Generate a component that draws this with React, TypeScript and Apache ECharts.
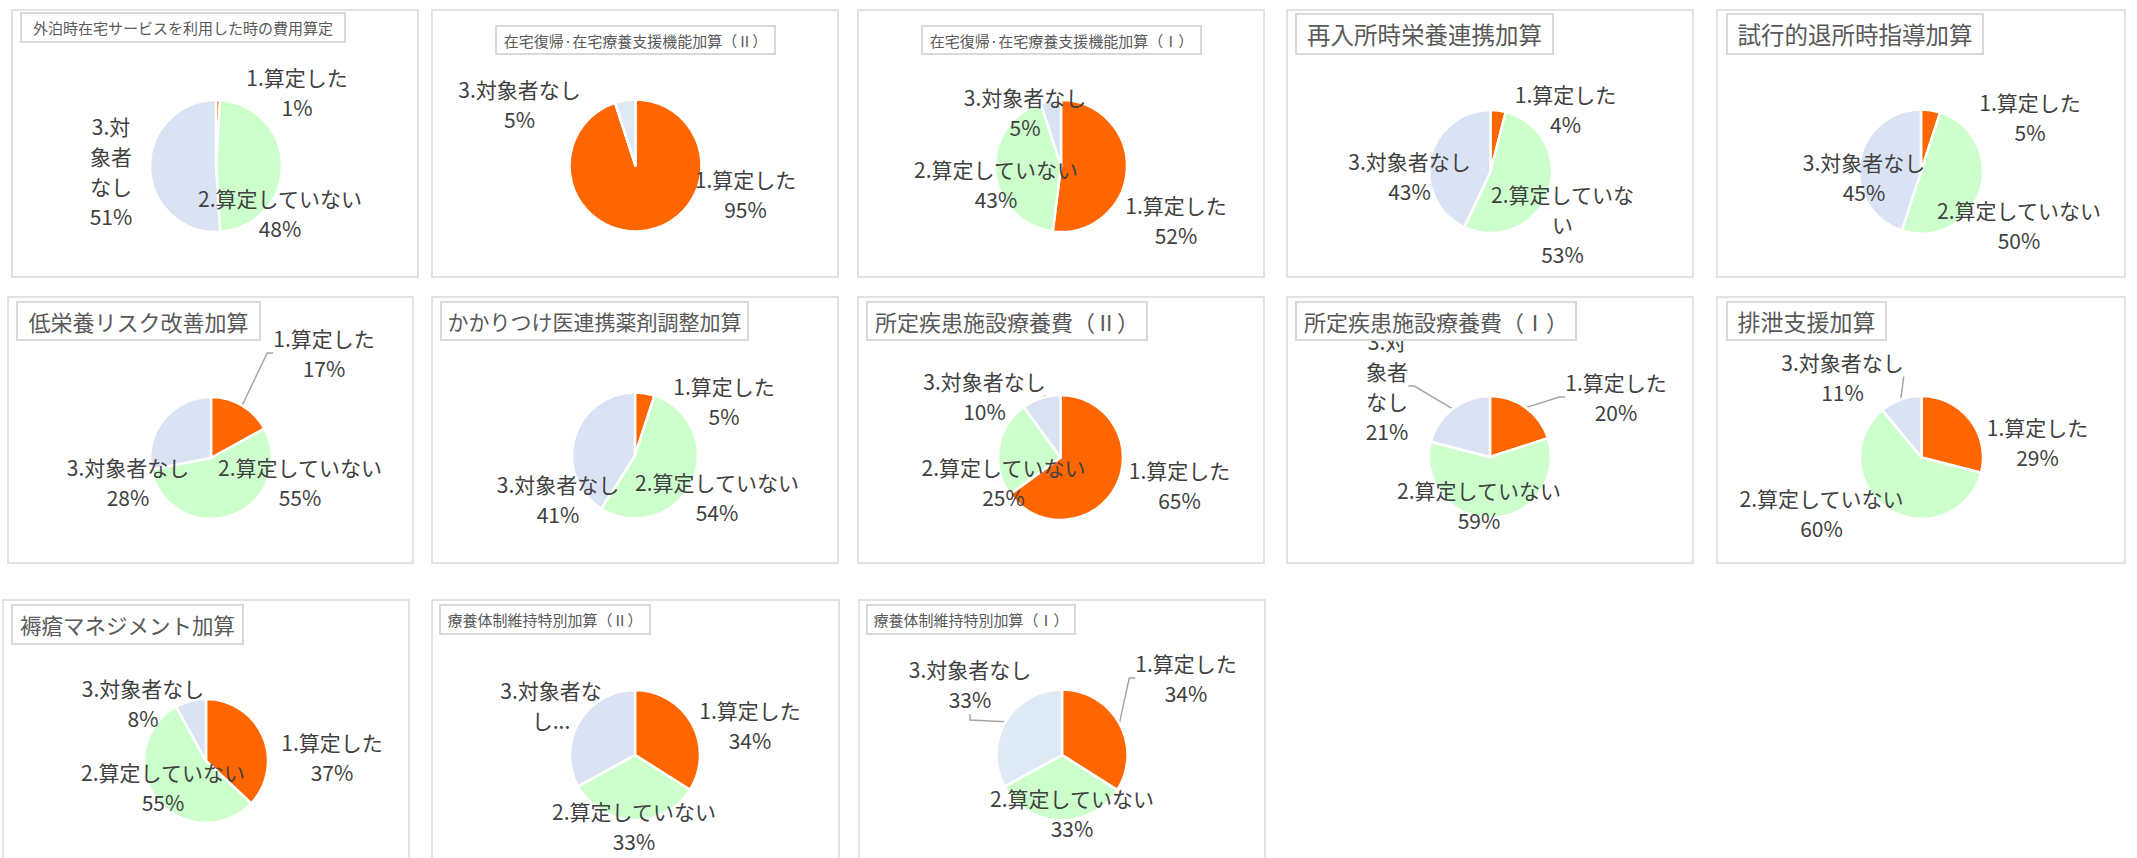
import React, { useEffect, useRef } from 'react';
import * as echarts from 'echarts';

// ---------- data ----------
const categories = ['1.算定した', '2.算定していない', '3.対象者なし'];

const chartTitles = [
  '外泊時在宅サービスを利用した時の費用算定',
  '在宅復帰·在宅療養支援機能加算（Ⅱ）',
  '在宅復帰·在宅療養支援機能加算（Ⅰ）',
  '再入所時栄養連携加算',
  '試行的退所時指導加算',
  '低栄養リスク改善加算',
  'かかりつけ医連携薬剤調整加算',
  '所定疾患施設療養費（Ⅱ）',
  '所定疾患施設療養費（Ⅰ）',
  '排泄支援加算',
  '褥瘡マネジメント加算',
  '療養体制維持特別加算（Ⅱ）',
  '療養体制維持特別加算（Ⅰ）',
];

// percentages per category, one entry per chart (same order as chartTitles)
const santei = [1, 95, 52, 4, 5, 17, 5, 65, 20, 29, 37, 34, 34];
const misantei = [48, 0, 43, 53, 50, 55, 54, 25, 59, 60, 55, 33, 33];
const taishoNashi = [51, 5, 5, 43, 45, 28, 41, 10, 21, 11, 8, 33, 33];

// ---------- layout / style ----------
const FONT = "'Noto Sans CJK JP', 'Noto Sans', sans-serif";
const COLORS = ['#FF6600', '#CCFFCC'];
const thirdColors = ['#DAE3F3', '#DEEBF7', '#DAE3F3', '#DAE3F3', '#DAE3F3', '#DAE3F3', '#DAE3F3',
  '#DAE3F3', '#DAE3F3', '#DAE3F3', '#DAE3F3', '#DAE3F3', '#DEEBF7'];

// panel frames: x, y, w, h
const panels = [
  [12, 10, 406, 267], [432, 10, 406, 267], [858, 10, 406, 267], [1287, 10, 406, 267], [1717, 10, 408, 267],
  [8, 297, 405, 266], [432, 297, 406, 266], [858, 297, 406, 266], [1287, 297, 406, 266], [1717, 297, 408, 266],
  [3, 600, 406, 290], [432, 600, 407, 290], [859, 600, 406, 290],
];
// title boxes: x, y, w, h, fontSize
const titleBoxes = [
  [21, 13, 324, 29, 15], [496, 26, 279, 28, 15], [922, 26, 279, 28, 15], [1296, 14, 257, 40, 23.5], [1727, 14, 256, 40, 23.5],
  [17, 302, 243, 38, 22], [441, 302, 307, 38, 21], [867, 302, 280, 38, 22], [1296, 302, 280, 38, 22], [1727, 302, 159, 38, 23],
  [12, 605, 231, 39, 21.5], [440, 605, 210, 29, 15], [867, 605, 208, 29, 15],
];
// pie centre x, y, radius
const pies = [
  [216, 166, 66], [635.5, 165.5, 66], [1061, 166, 66], [1490.5, 171.5, 61.5], [1921, 171.5, 62],
  [211, 458, 61], [635, 455.5, 63], [1060.5, 457.5, 62.5], [1490, 457, 61], [1921.5, 457.5, 61.5],
  [206, 761, 62], [635, 755, 65], [1062, 755, 65.5],
];
// label block centre offsets from pie centre, per category
const labelOffsets = [
  [[81, -74], [64, 47], [-105, 5]],
  [[110, 28], [0, 0], [-116, -62]],
  [[115, 54], [-65, 18], [-36, -54]],
  [[75, -63], [72, 52], [-81, 4]],
  [[109, -55], [98, 53], [-57, 5]],
  [[113, -105], [89, 24], [-83, 24]],
  [[89, -55], [82, 41], [-77, 43]],
  [[119, 27], [-57, 24], [-76, -62]],
  [[126, -60], [-11, 48], [-103, -71]],
  [[116, -16], [-100, 55], [-79, -81]],
  [[126, -4], [-43, 26], [-63, -58]],
  [[115, -30], [-1, 71], [-84, -50]],
  [[124, -77], [10, 58], [-92, -71]],
];
// label text wrapping as in the source
const labelWrap: Record<string, string> = {
  '0-2': '3.対\n象者\nなし',
  '3-1': '2.算定していな\nい',
  '8-2': '3.対\n象者\nなし',
  '11-2': '3.対象者な\nし...',
};
const truncatedLabels = ['11-2'];
const leaderLines = ['5-0', '7-2', '8-0', '8-2', '9-2', '12-0', '12-2'];

const seriesValues = [santei, misantei, taishoNashi];

export default function App() {
  const ref = useRef<HTMLDivElement>(null);

  useEffect(() => {
    document.body.style.margin = '0';
    if (!ref.current) return;
    const chart = echarts.init(ref.current, undefined, { renderer: 'svg' });

    const graphic: any[] = [];
    panels.forEach((p) => {
      graphic.push({
        type: 'rect', z: 0, silent: true,
        shape: { x: p[0], y: p[1], width: p[2], height: p[3] },
        style: { fill: '#FFFFFF', stroke: '#D9D9D9', lineWidth: 1.5 },
      });
    });
    titleBoxes.forEach((t, i) => {
      graphic.push({
        type: 'rect', z: 20, silent: true,
        shape: { x: t[0], y: t[1], width: t[2], height: t[3] },
        style: { fill: '#FFFFFF', stroke: '#D9D9D9', lineWidth: 2 },
      });
      graphic.push({
        type: 'text', z: 21, silent: true,
        x: t[0] + t[2] / 2, y: t[1] + t[3] / 2,
        style: {
          text: chartTitles[i], fill: '#595959', font: `${t[4]}px ${FONT}`,
          align: 'center', verticalAlign: 'middle',
        },
      });
    });

    const series = chartTitles.map((_, i) => {
      const [cx, cy, r] = pies[i];
      return {
        type: 'pie',
        z: 5,
        center: [cx, cy],
        radius: r,
        startAngle: 90,
        clockwise: true,
        avoidLabelOverlap: false,
        silent: true,
        itemStyle: { borderColor: '#FFFFFF', borderWidth: 2.5 },
        label: {
          show: true,
          position: 'outside',
          fontFamily: FONT,
          fontSize: 21,
          lineHeight: 30,
          color: '#404040',
          formatter: (p: any) => {
            const key = `${i}-${p.dataIndex}`;
            const name = labelWrap[key] ?? p.name;
            if (truncatedLabels.includes(key)) return name;
            return `${name}\n${p.value}%`;
          },
        },
        labelLine: { show: false, length: 6, length2: 6, lineStyle: { color: '#A6A6A6', width: 1.5 } },
        labelLayout: (p: any) => {
          const off = labelOffsets[i][p.dataIndex];
          return { x: cx + off[0], y: cy + off[1], align: 'center', verticalAlign: 'middle' };
        },
        data: categories.map((c, k) => {
          const v = seriesValues[k][i];
          const key = `${i}-${k}`;
          const item: any = {
            name: c,
            value: v,
            itemStyle: { color: k === 2 ? thirdColors[i] : COLORS[k] },
          };
          if (v === 0) {
            item.label = { show: false };
          }
          if (leaderLines.includes(key)) item.labelLine = { show: true };
          return item;
        }),
      };
    });

    chart.setOption({
      animation: false,
      backgroundColor: '#FFFFFF',
      graphic,
      series,
    });

    return () => chart.dispose();
  }, []);

  return <div ref={ref} style={{ width: 2137, height: 858 }} />;
}
